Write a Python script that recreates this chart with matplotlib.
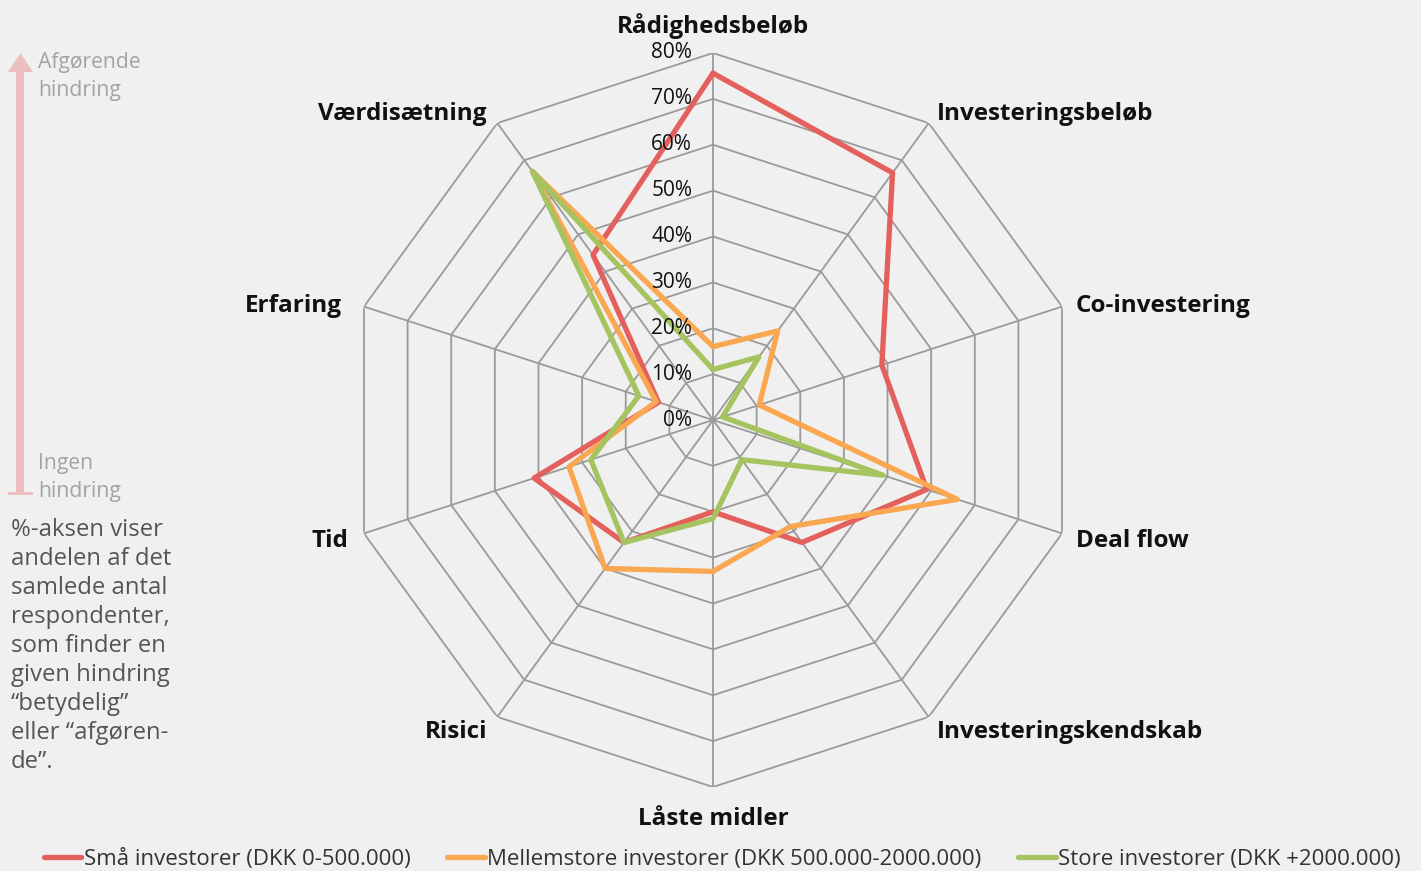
import numpy as np
import matplotlib.pyplot as plt
from matplotlib.patches import Polygon, Rectangle

plt.rcParams['font.family'] = ['Open Sans', 'DejaVu Sans']

categories = ['Rådighedsbeløb', 'Investeringsbeløb', 'Co-investering', 'Deal flow',
              'Investeringskendskab', 'Låste midler', 'Risici', 'Tid', 'Erfaring',
              'Værdisætning']
smaa = [75.6, 66.6, 38.7, 49.0, 33.0, 20.0, 33.0, 41.0, 12.5, 44.5]
mellem = [16.0, 24.0, 10.6, 56.0, 28.7, 33.0, 40.0, 33.0, 13.0, 67.0]
store = [11.0, 17.0, 2.2, 39.0, 10.7, 21.5, 33.0, 28.0, 17.0, 67.0]
series_names = ['Små investorer (DKK 0-500.000)',
                'Mellemstore investorer (DKK 500.000-2000.000)',
                'Store investorer (DKK +2000.000)']
colors = ['#e4605c', '#f9a750', '#a5c35f']
ticks = [0, 10, 20, 30, 40, 50, 60, 70, 80]

bg = '#f0f0f0'
W, H = 1421, 871
fig = plt.figure(figsize=(W / 100, H / 100), dpi=100, facecolor=bg)

cx, cy, R = 713, 420, 367
ax = fig.add_axes([(cx - R) / W, (H - cy - R) / H, 2 * R / W, 2 * R / H], projection='polar')
ax.set_facecolor('none')
ax.set_theta_zero_location('N')
ax.set_theta_direction(-1)
ax.set_ylim(0, 80)
ax.set_xticks([])
ax.set_yticks([])
ax.grid(False)
ax.spines['polar'].set_visible(False)

n = len(categories)
ang = np.arange(n) * 2 * np.pi / n
ang_c = np.append(ang, ang[0])

grid_col = '#9a9a9a'
for t in ticks[1:]:
    ax.plot(ang_c, [t] * (n + 1), color=grid_col, lw=1.3, zorder=1)
for a in ang:
    ax.plot([a, a], [0, ticks[-1]], color=grid_col, lw=1.3, zorder=1)

for t in ticks:
    ax.annotate(f'{t}%', xy=(0, t), xytext=(-15, 0), textcoords='offset points',
                ha='right', va='center', fontsize=15, color='#111111', zorder=5)

for vals, name, col in zip([smaa, mellem, store], series_names, colors):
    ax.plot(ang_c, vals + vals[:1], color=col, lw=3.8, label=name,
            solid_joinstyle='round', solid_capstyle='round', zorder=3)

# category labels: offsets in pixels from the outer vertex
offs = [(0, 27, 'center'), (8, 9, 'left'), (14, 1, 'left'), (14, -8, 'left'),
        (8, -15, 'left'), (0, -32, 'center'), (-10, -15, 'right'), (-16, -8, 'right'),
        (-22, 1, 'right'), (-11, 9, 'right')]
for a, lab, (dx, dy, ha) in zip(ang, categories, offs):
    ax.annotate(lab, xy=(a, ticks[-1]), xytext=(dx * 0.72, dy * 0.72),
                textcoords='offset points', ha=ha, va='center',
                fontsize=17.5, fontweight='bold', color='#111111')

# left side annotation in pixel coordinates
ov = fig.add_axes([0, 0, 1, 1])
ov.set_xlim(0, W)
ov.set_ylim(H, 0)
ov.axis('off')
pink = '#ecbec0'
ov.add_patch(Rectangle((16, 71), 8, 423, color=pink, lw=0))
ov.add_patch(Polygon([(8, 72), (33, 72), (20.5, 53)], closed=True, color=pink, lw=0))
ov.add_patch(Rectangle((8, 491.5), 25, 3.5, color=pink, lw=0))
ov.text(38, 52, 'Afgørende\nhindring', va='top', ha='left', fontsize=15.2,
        color='#a3a3a3', linespacing=1.42)
ov.text(38, 453, 'Ingen\nhindring', va='top', ha='left', fontsize=15.2,
        color='#a3a3a3', linespacing=1.42)
ov.text(11, 518, '%-aksen viser\nandelen af det\nsamlede antal\nrespondenter,\n'
        'som finder en\ngiven hindring\n“betydelig”\neller “afgøren-\nde”.',
        va='top', ha='left', fontsize=17.2, color='#555555', linespacing=1.28)

fig.legend(loc='center', bbox_to_anchor=(722 / W, 1 - 859 / H), ncol=3,
           frameon=False, fontsize=16, handlelength=1.7, handletextpad=0.1,
           columnspacing=1.65, labelcolor='#333333')

fig.savefig('out.png', dpi=100, facecolor=bg)
